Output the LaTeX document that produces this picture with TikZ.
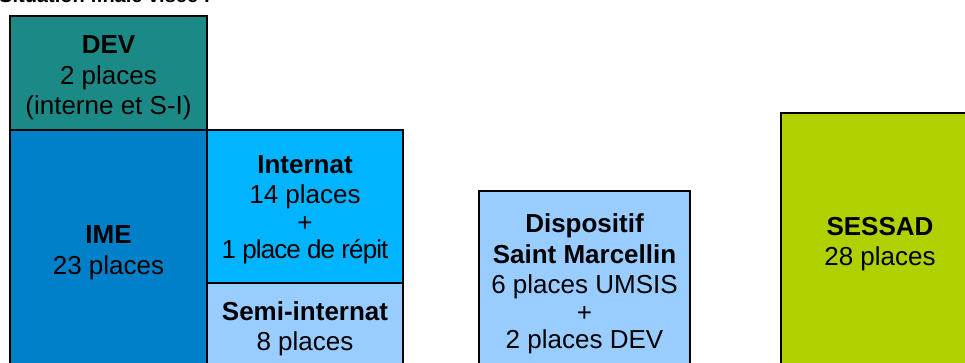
\documentclass[tikz,border=0pt]{standalone}
\usepackage{fontspec}
\setmainfont{Liberation Sans}
\definecolor{devc}{HTML}{1B8A87}
\definecolor{imec}{HTML}{0080C8}
\definecolor{intc}{HTML}{00B4FF}
\definecolor{semic}{HTML}{99CCFF}
\definecolor{sessc}{HTML}{B0D000}
\begin{document}
\begin{tikzpicture}[x=1pt,y=-1pt,
  boxstyle/.style={draw=black,line width=1.6pt},
  lbl/.style={align=center,font=\fontsize{26}{30.5}\selectfont,inner sep=0pt}]
\useasboundingbox (0,0) rectangle (965,363);
\node[anchor=base west,inner sep=0pt,font=\fontsize{20}{24}\selectfont\bfseries] (title) at (-1,3) {Situation finale visée :};
% boxes
\draw[boxstyle,fill=devc] (10,16) rectangle (207,130);
\draw[boxstyle,fill=imec] (10,130) rectangle (207,375);
\draw[boxstyle,fill=intc] (207,130) rectangle (403,283);
\draw[boxstyle,fill=semic] (207,283) rectangle (403,375);
\draw[boxstyle,fill=semic] (479,191) rectangle (690,375);
\draw[boxstyle,fill=sessc] (781,113) rectangle (980,375);
% labels
\node[lbl] (dev) at (108.5,78) {\textbf{DEV}\\2 places\\(interne et S-I)};
\node[lbl] (ime) at (108.5,253) {\textbf{IME}\\23 places};
\node[lbl] (int) at (305,210) {\textbf{Internat}\\14 places\\[-3pt]+\\[-3pt]{\addfontfeatures{LetterSpace=-3.5}1 place de répit}};
\node[lbl] (semi) at (305,329) {\textbf{Semi-internat}\\8 places};
\node[lbl] (disp) at (584.5,284) {\textbf{Dispositif}\\\textbf{Saint Marcellin}\\6 places UMSIS\\[-3pt]+\\[-3pt]2 places DEV};
\node[lbl] (sess) at (880,244) {\textbf{SESSAD}\\28 places};
\end{tikzpicture}
\end{document}
